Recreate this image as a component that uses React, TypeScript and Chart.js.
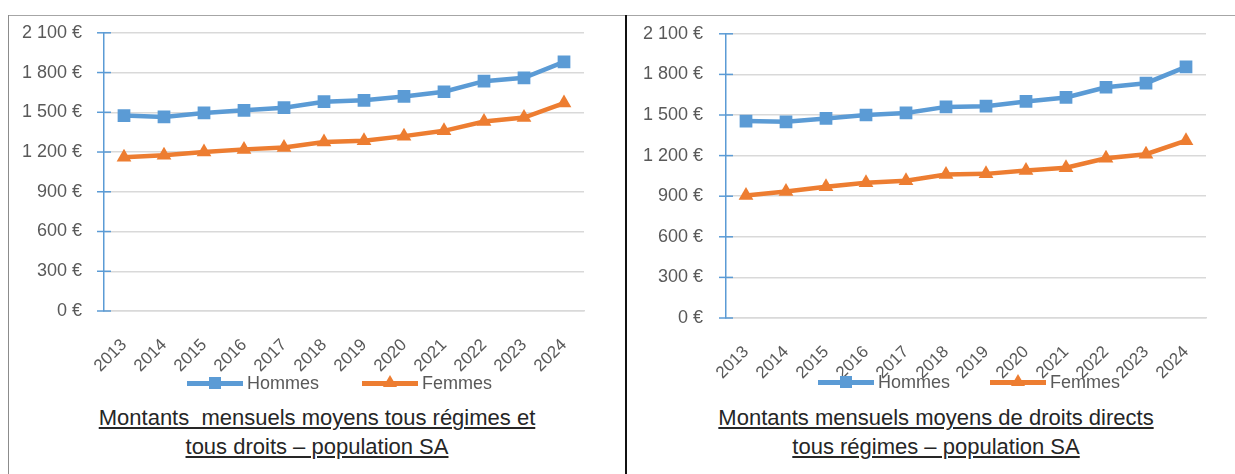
import React, { useEffect, useRef } from 'react';
import { Chart, registerables } from 'chart.js';
Chart.register(...registerables);

const years = ['2013', '2014', '2015', '2016', '2017', '2018', '2019', '2020', '2021', '2022', '2023', '2024'];
const leftHommes = [1475, 1465, 1495, 1515, 1535, 1580, 1590, 1620, 1655, 1735, 1760, 1880];
const leftFemmes = [1160, 1175, 1200, 1220, 1235, 1275, 1285, 1320, 1360, 1430, 1460, 1570];
const rightHommes = [1455, 1450, 1475, 1500, 1515, 1560, 1565, 1600, 1630, 1705, 1735, 1855];
const rightFemmes = [905, 935, 970, 1000, 1015, 1060, 1065, 1090, 1110, 1180, 1210, 1310];
const seriesNames = ['Hommes', 'Femmes'];
const leftTitle = ['Montants  mensuels moyens tous régimes et', 'tous droits – population SA'];
const rightTitle = ['Montants mensuels moyens de droits directs', 'tous régimes – population SA'];
const yMin = 0;
const yMax = 2100;
const yStep = 300;

const BLUE = '#5b9bd5';
const ORANGE = '#ed7d31';
const GRID = '#d9d9d9';
const TEXT = '#595959';
const FONT = "'Liberation Sans', Arial, sans-serif";

function fmtEuro(v: number): string {
  return String(v).replace(/\B(?=(\d{3})+(?!\d))/g, ' ') + ' €';
}

const crossTicks = {
  id: 'crossTicks',
  beforeDatasetsDraw(chart: any) {
    const ys = chart.scales.y;
    const ctx = chart.ctx;
    const x0 = chart.chartArea.left;
    ctx.save();
    ctx.strokeStyle = BLUE;
    ctx.lineWidth = 1.5;
    ys.ticks.forEach((_t: any, i: number) => {
      const py = ys.getPixelForTick(i);
      ctx.beginPath();
      ctx.moveTo(x0 - 7, py);
      ctx.lineTo(x0 + 7, py);
      ctx.stroke();
    });
    ctx.restore();
  },
};

type PanelProps = {
  left: number;
  top: number;
  width: number;
  height: number;
  axisWidth: number;
  xHeight: number;
  padRight: number;
  hommes: number[];
  femmes: number[];
  labelPad: number;
  yPad: number;
};

function LinePanel(p: PanelProps) {
  const ref = useRef<HTMLCanvasElement>(null);
  useEffect(() => {
    const chart = new Chart(ref.current as HTMLCanvasElement, {
      type: 'line',
      data: {
        labels: years,
        datasets: [
          {
            label: seriesNames[0],
            data: p.hommes,
            borderColor: BLUE,
            backgroundColor: BLUE,
            borderWidth: 4.5,
            pointStyle: 'rect',
            pointRadius: 9,
            pointBorderWidth: 0,
            tension: 0,
          },
          {
            label: seriesNames[1],
            data: p.femmes,
            borderColor: ORANGE,
            backgroundColor: ORANGE,
            borderWidth: 4.5,
            pointStyle: 'triangle',
            pointRadius: 8.5,
            pointBorderWidth: 0,
            tension: 0,
          },
        ],
      },
      options: {
        responsive: false,
        animation: false,
        devicePixelRatio: 1,
        layout: { padding: { left: 0, top: 16, right: p.padRight, bottom: 0 } },
        plugins: { legend: { display: false }, tooltip: { enabled: false } },
        scales: {
          x: {
            offset: true,
            grid: { display: false, drawTicks: false },
            border: { color: GRID, width: 1.5 },
            ticks: {
              autoSkip: false,
              minRotation: 45,
              maxRotation: 45,
              padding: p.labelPad,
              color: TEXT,
              font: { family: FONT, size: 17 },
            },
            afterFit: (s: any) => {
              s.height = p.xHeight;
            },
          },
          y: {
            min: yMin,
            max: yMax,
            ticks: {
              stepSize: yStep,
              padding: p.yPad,
              color: TEXT,
              font: { family: FONT, size: 18 },
              callback: (v: any) => fmtEuro(Number(v)),
            },
            grid: { color: GRID, lineWidth: 1.5, drawTicks: false },
            border: { color: BLUE, width: 1.5 },
            afterFit: (s: any) => {
              s.width = p.axisWidth;
            },
          },
        },
      } as any,
      plugins: [crossTicks],
    });
    return () => chart.destroy();
  }, []);
  return (
    <canvas
      ref={ref}
      width={p.width}
      height={p.height}
      style={{ position: 'absolute', left: p.left, top: p.top, width: p.width, height: p.height }}
    />
  );
}

function LegendItem({ x, y, color, shape, label }: { x: number; y: number; color: string; shape: string; label: string }) {
  return (
    <div style={{ position: 'absolute', left: x, top: y - 12, height: 24, width: 160 }}>
      <div style={{ position: 'absolute', left: 0, top: 10, width: 56, height: 5, background: color }} />
      {shape === 'rect' ? (
        <div style={{ position: 'absolute', left: 22, top: 6, width: 12, height: 12, background: color }} />
      ) : (
        <div
          style={{
            position: 'absolute',
            left: 21,
            top: 4,
            width: 0,
            height: 0,
            borderLeft: '7px solid transparent',
            borderRight: '7px solid transparent',
            borderBottom: '12px solid ' + color,
          }}
        />
      )}
      <span
        style={{
          position: 'absolute',
          left: 60,
          top: 1,
          fontFamily: FONT,
          fontSize: 18,
          lineHeight: '22px',
          color: TEXT,
          whiteSpace: 'pre',
        }}
      >
        {label}
      </span>
    </div>
  );
}

function Title({ cx, top, lines }: { cx: number; top: number; lines: string[] }) {
  return (
    <div
      style={{
        position: 'absolute',
        left: cx - 300,
        top,
        width: 600,
        textAlign: 'center',
        fontFamily: FONT,
        fontSize: 22,
        lineHeight: '29px',
        color: '#262626',
        textDecoration: 'underline',
        whiteSpace: 'pre',
      }}
    >
      {lines.map((l, i) => (
        <div key={i}>{l}</div>
      ))}
    </div>
  );
}

export default function App() {
  return (
    <div style={{ position: 'absolute', left: 0, top: 0, width: 1235, height: 474, background: '#fff', overflow: 'hidden' }}>
      <LinePanel
        left={9}
        top={0}
        width={616}
        height={386}
        axisWidth={95}
        xHeight={75}
        padRight={41}
        hommes={leftHommes}
        femmes={leftFemmes}
        labelPad={24}
        yPad={22}
      />
      <LinePanel
        left={628}
        top={0}
        width={607}
        height={386}
        axisWidth={98}
        xHeight={68}
        padRight={29}
        hommes={rightHommes}
        femmes={rightFemmes}
        labelPad={24}
        yPad={23}
      />
      <div style={{ position: 'absolute', left: 8, top: 15, width: 1227, height: 1, background: '#a6a6a6' }} />
      <div style={{ position: 'absolute', left: 8, top: 15, width: 1, height: 459, background: '#8c8c8c' }} />
      <div style={{ position: 'absolute', left: 625, top: 15, width: 2, height: 459, background: '#111' }} />
      <LegendItem x={187} y={383} color={BLUE} shape="rect" label={seriesNames[0]} />
      <LegendItem x={362} y={383} color={ORANGE} shape="tri" label={seriesNames[1]} />
      <LegendItem x={818} y={382} color={BLUE} shape="rect" label={seriesNames[0]} />
      <LegendItem x={990} y={382} color={ORANGE} shape="tri" label={seriesNames[1]} />
      <Title cx={317} top={403} lines={leftTitle} />
      <Title cx={936} top={403} lines={rightTitle} />
    </div>
  );
}
